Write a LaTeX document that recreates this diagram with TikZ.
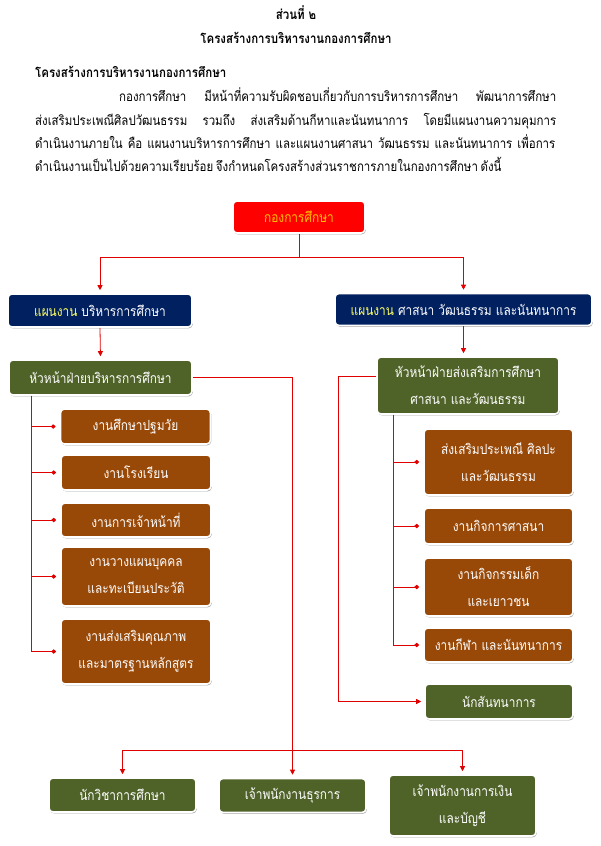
\documentclass[tikz,border=0pt]{standalone}
\usepackage{fontspec}
\setmainfont[Script=Thai, FakeStretch=0.85]{Loma}
\usetikzlibrary{arrows.meta,shadows,calc}
\definecolor{navyb}{HTML}{002060}
\definecolor{oliveb}{HTML}{4F6228}
\definecolor{brownb}{HTML}{984807}
\definecolor{redb}{HTML}{FF0000}
\definecolor{linered}{HTML}{E00000}
\definecolor{orangetxt}{HTML}{FFC000}
\definecolor{yellowtxt}{HTML}{FFFF66}
\newcommand{\pfont}{\fontsize{13.5pt}{16pt}\selectfont}
\newcommand{\tfont}{\fontsize{13.5pt}{16pt}\selectfont\bfseries}
\newcommand{\bxfont}{\fontsize{14pt}{27pt}\selectfont}
\tikzset{
  bx/.style={rounded corners=4pt, draw=white, line width=1.6pt,
    drop shadow={shadow xshift=0.8pt, shadow yshift=-1.3pt, opacity=0.35, fill=black},
    text=white, align=center, font=\bxfont, inner sep=0pt},
  redbox/.style={bx, fill=redb, text=orangetxt},
  navybox/.style={bx, fill=navyb},
  olivebox/.style={bx, fill=oliveb},
  brownbox/.style={bx, fill=brownb},
  conn/.style={draw=linered, line width=0.8pt},
  arr/.style={conn, -{Triangle[length=5pt,width=5pt]}, shorten >=3pt},
  dia/.style={conn, -{Diamond[length=5pt,width=4.5pt]}, shorten >=4pt},
  ptext/.style={anchor=base west, inner sep=0pt, font=\pfont},
  ttext/.style={anchor=base, inner sep=0pt, font=\tfont}
}
\begin{document}
\begin{tikzpicture}[x=1pt,y=-1pt]
\useasboundingbox (0,0) rectangle (600,846);
\fill[white] (0,0) rectangle (600,846);

% titles and paragraph
\node[ttext] (t1) at (296,19.5) {ส่วนที่ ๒};
\node[ttext] (t2) at (296,43.5) {โครงสร้างการบริหารงานกองการศึกษา};
\node[ttext, anchor=base west] (h1) at (35,77.5) {โครงสร้างการบริหารงานกองการศึกษา};
\node[ptext] (p1) at (119,101.5) {\makebox[437pt][s]{กองการศึกษา มีหน้าที่ความรับผิดชอบเกี่ยวกับการบริหารการศึกษา พัฒนาการศึกษา}};
\node[ptext] (p2) at (35,125) {\makebox[521pt][s]{ส่งเสริมประเพณีศิลปวัฒนธรรม รวมถึง ส่งเสริมด้านกีหาและนันทนาการ โดยมีแผนงานความคุมการ}};
\node[ptext] (p3) at (35,148) {\makebox[520pt][s]{ดำเนินงานภายใน คือ แผนงานบริหารการศึกษา และแผนงานศาสนา วัฒนธรรม และนันทนาการ เพื่อการ}};
\node[ptext] (p4) at (35,171) {\makebox[458pt][s]{ดำเนินงานเป็นไปด้วยความเรียบร้อย จึงกำหนดโครงสร้างส่วนราชการภายในกองการศึกษา ดังนี้}};

% boxes
\node[redbox, minimum width=132pt, minimum height=32pt] (top) at (299,217) {กองการศึกษา};
\node[navybox, minimum width=184pt, minimum height=33pt] (pL) at (100,310.5) {{\color{yellowtxt}แผนงาน} บริหารการศึกษา};
\node[navybox, minimum width=257pt, minimum height=32pt] (pR) at (463.5,309.5) {{\color{yellowtxt}แผนงาน} ศาสนา วัฒนธรรม และนันทนาการ};
\node[olivebox, minimum width=183pt, minimum height=35pt] (hL) at (100.5,377.5) {หัวหน้าฝ่ายบริหารการศึกษา};
\node[olivebox, minimum width=182pt, minimum height=57pt] (rH) at (468,385.5) {หัวหน้าฝ่ายส่งเสริมการศึกษา\\ศาสนา และวัฒนธรรม};

\node[brownbox, minimum width=150pt, minimum height=35pt] (s1) at (135.5,426.5) {งานศึกษาปฐมวัย};
\node[brownbox, minimum width=150pt, minimum height=35pt] (s2) at (136,472.5) {งานโรงเรียน};
\node[brownbox, minimum width=150pt, minimum height=34pt] (s3) at (136,520) {งานการเจ้าหน้าที่};
\node[brownbox, minimum width=150pt, minimum height=59pt] (s4) at (136,576.5) {งานวางแผนบุคคล\\และทะเบียนประวัติ};
\node[brownbox, minimum width=150pt, minimum height=65pt] (s5) at (136,651.5) {งานส่งเสริมคุณภาพ\\และมาตรฐานหลักสูตร};

\node[brownbox, minimum width=149pt, minimum height=66pt] (r1) at (498.5,462) {ส่งเสริมประเพณี ศิลปะ\\และวัฒนธรรม};
\node[brownbox, minimum width=149pt, minimum height=36pt] (r2) at (498.5,526) {งานกิจการศาสนา};
\node[brownbox, minimum width=149pt, minimum height=58pt] (r3) at (498.5,587) {งานกิจกรรมเด็ก\\และเยาวชน};
\node[brownbox, minimum width=149pt, minimum height=34pt] (r4) at (498.5,645) {งานกีฬา และนันทนาการ};
\node[olivebox, minimum width=148pt, minimum height=35pt] (nak) at (499,701.5) {นักสันทนาการ};

\node[olivebox, minimum width=147pt, minimum height=34pt] (b1) at (122.5,795) {นักวิชาการศึกษา};
\node[olivebox, minimum width=147pt, minimum height=34pt] (b2) at (292.5,795.5) {เจ้าพนักงานธุรการ};
\node[olivebox, minimum width=147pt, minimum height=61pt] (b3) at (462.5,805.5) {เจ้าพนักงานการเงิน\\และบัญชี};

% connectors
\draw[arr] (top.south) -- ++(0,24) -| (pL.north);
\draw[arr] (top.south) -- ++(0,24) -| (pR.north);
\draw[arr] (pL.south) -- (hL.north);
\draw[arr] (pR.south) -- (pR.south |- rH.north);

\coordinate (lJ) at ($(hL.south west)+(23,0)$);
\foreach \n in {s1,s2,s3,s4,s5} \draw[dia] (lJ) |- (\n.west);

\coordinate (rJ) at ($(rH.south west)+(17,0)$);
\foreach \n in {r1,r2,r3,r4} \draw[dia] (rJ) |- (\n.west);

\draw[arr] ($(rH.west)+(0,-9)$) -- ++(-38,0) |- (nak.west);

\draw[arr] (hL.east) -| (b2.north);
\coordinate (bJ) at ($(b2.north)+(0,-27)$);
\draw[arr] (bJ) -| (b1.north);
\draw[arr] (bJ) -| (b3.north);
\end{tikzpicture}
\end{document}
